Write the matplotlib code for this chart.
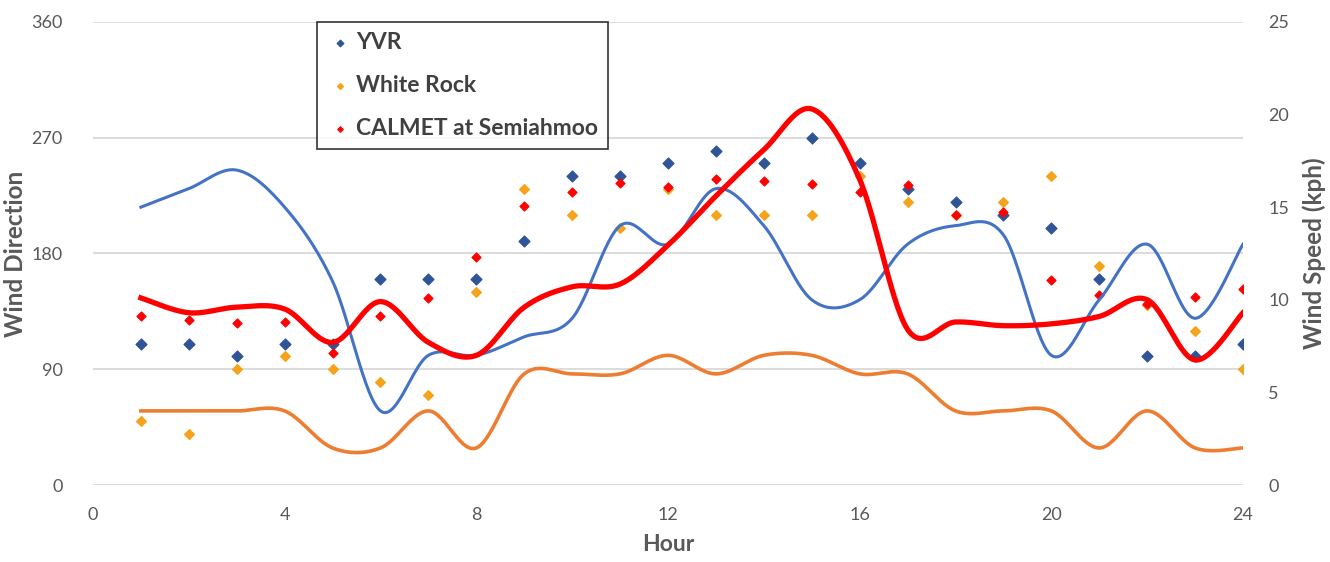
import numpy as np
import matplotlib
matplotlib.use("Agg")
import matplotlib.pyplot as plt

plt.rcParams['font.family'] = ['Lato', 'DejaVu Sans']

hours = list(range(1, 25))

# Wind direction (degrees) - scatter, left axis
yvr_dir = [110, 110, 100, 110, 110, 160, 160, 160, 190, 240, 240, 250,
           260, 250, 270, 250, 230, 220, 210, 200, 160, 100, 100, 110]
wr_dir = [50, 40, 90, 100, 90, 80, 70, 150, 230, 210, 200, 230,
          210, 210, 210, 240, 220, 210, 220, 240, 170, 140, 120, 90]
calmet_dir = [131, 128, 126, 127, 103, 131, 145, 177, 217, 228, 235, 232,
              238, 236, 234, 228, 233, 210, 212, 159, 148, 141, 146, 152]

# Wind speed (kph) - smoothed lines, right axis
yvr_spd = [15, 16, 17, 15, 11, 4, 7, 7, 8, 9, 14, 13,
           16, 14, 10, 10, 13, 14, 13.5, 7, 10, 13, 9, 13]
wr_spd = [4, 4, 4, 4, 2, 2, 4, 2, 6, 6, 6, 7,
          6, 7, 7, 6, 6, 4, 4, 4, 2, 4, 2, 2]
calmet_spd = [10.1, 9.3, 9.6, 9.5, 7.7, 9.9, 7.7, 7.0, 9.6, 10.7, 10.85, 12.95,
              15.6, 18.1, 20.3, 16.5, 8.4, 8.8, 8.6, 8.7, 9.1, 10.0, 6.75, 9.3]

x_ticks = [0, 4, 8, 12, 16, 20, 24]
dir_ticks = [0, 90, 180, 270, 360]
spd_ticks = [0, 5, 10, 15, 20, 25]


def smooth(x, y, n=30):
    x = np.asarray(x, float)
    y = np.asarray(y, float)
    px = np.concatenate([[x[0]], x, [x[-1]]])
    py = np.concatenate([[y[0]], y, [y[-1]]])
    xs, ys = [], []
    t = np.linspace(0, 1, n)
    for i in range(1, len(px) - 2):
        p0x, p1x, p2x, p3x = px[i - 1], px[i], px[i + 1], px[i + 2]
        p0y, p1y, p2y, p3y = py[i - 1], py[i], py[i + 1], py[i + 2]
        # Bezier control points (Catmull-Rom, tension 1/6)
        c1x = p1x + (p2x - p0x) / 6
        c1y = p1y + (p2y - p0y) / 6
        c2x = p2x - (p3x - p1x) / 6
        c2y = p2y - (p3y - p1y) / 6
        bx = ((1 - t) ** 3 * p1x + 3 * (1 - t) ** 2 * t * c1x
              + 3 * (1 - t) * t ** 2 * c2x + t ** 3 * p2x)
        by = ((1 - t) ** 3 * p1y + 3 * (1 - t) ** 2 * t * c1y
              + 3 * (1 - t) * t ** 2 * c2y + t ** 3 * p2y)
        xs.append(bx)
        ys.append(by)
    return np.concatenate(xs), np.concatenate(ys)


fig = plt.figure(figsize=(13.3, 5.62), dpi=100)
ax = fig.add_axes([0.0699, 0.137, 0.8647, 0.824])
ax2 = ax.twinx()

grid_c = '#D9D9D9'
tick_c = '#595959'
label_c = '#595959'

ax.set_xlim(0, 24)
ax.set_ylim(0, 360)
ax2.set_ylim(0, 25)
ax.set_xticks(x_ticks)
ax.set_yticks(dir_ticks)
ax2.set_yticks(spd_ticks)
ax.yaxis.grid(True, color=grid_c, linewidth=1.3)
ax.set_axisbelow(True)

for a in (ax, ax2):
    for s in a.spines.values():
        s.set_visible(False)
    a.tick_params(length=0, labelsize=13, labelcolor=tick_c)
ax.tick_params(axis='x', pad=16)
ax.tick_params(axis='y', pad=22)
ax2.tick_params(axis='y', pad=18)

s1 = ax.scatter(hours, yvr_dir, marker='D', s=30, color='#2F5597', label='YVR', zorder=3)
s2 = ax.scatter(hours, wr_dir, marker='D', s=24, color='#F5A31A', label='White Rock', zorder=3)
s3 = ax.scatter(hours, calmet_dir, marker='D', s=20, color='#FF0000', label='CALMET at Semiahmoo', zorder=3)

bx, by = smooth(hours, yvr_spd)
ax2.plot(bx, by, color='#4472C4', linewidth=2.2)
ox, oy = smooth(hours, wr_spd)
ax2.plot(ox, oy, color='#ED7D31', linewidth=2.6)
rx, ry = smooth(hours, calmet_spd)
ax2.plot(rx, ry, color='#FF0000', linewidth=3.8)

ax.set_xlabel('Hour', fontsize=16.5, fontweight='bold', color=label_c, labelpad=8)
ax.set_ylabel('Wind Direction', fontsize=17.5, fontweight='bold', color=label_c, labelpad=3)
ax2.set_ylabel('Wind Speed (kph)', fontsize=17.5, fontweight='bold', color=label_c, labelpad=10)

leg = ax2.legend(handles=[s1, s2, s3], loc='upper left', bbox_to_anchor=(0.195, 1.0),
                 fontsize=16.5, frameon=True, fancybox=False, edgecolor='black',
                 labelspacing=0.95, handletextpad=0.15, borderpad=0.45,
                 markerscale=0.6, handlelength=1.1, borderaxespad=0)
leg.get_frame().set_linewidth(1.2)
for t in leg.get_texts():
    t.set_color('#404040')
    t.set_fontweight('bold')

fig.savefig('out.png', dpi=100)
